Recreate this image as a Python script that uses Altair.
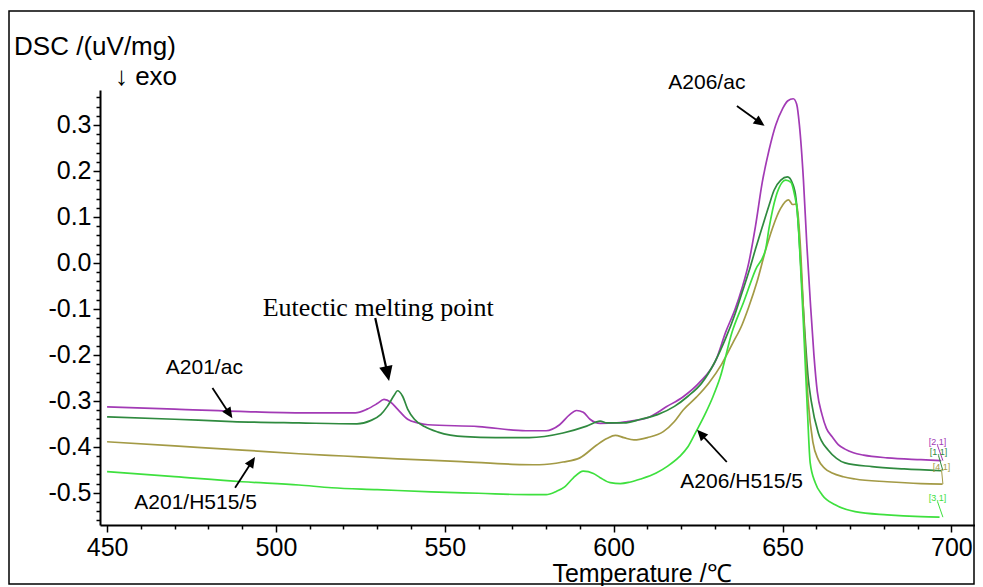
import math
import altair as alt
import pandas as pd

# ---------------- data ----------------
names = ["A206/ac", "A201/ac", "A201/H515/5", "A206/H515/5"]
colors = ["#a23ab5", "#2f8a3f", "#a39a45", "#3ee03e"]

purple_T = [450, 470, 494, 510, 523.5, 527, 530, 532, 534, 536, 539, 542, 545, 560, 574, 580,
            584, 587, 589, 591, 593, 596, 600.9, 604, 610.6, 615.6, 620.6, 625.3, 630.3, 633.2,
            636, 638, 640, 642, 644, 646, 648, 650, 651.5, 653.2, 654.2, 655, 656.2, 657.2,
            658.2, 659.3, 660.3, 661.7, 663, 664.7, 666.5, 668.5, 671, 674, 681, 691, 697]
purple_V = [-0.313, -0.318, -0.324, -0.326, -0.326, -0.318, -0.306, -0.297, -0.303, -0.318,
            -0.340, -0.348, -0.352, -0.356, -0.365, -0.365, -0.352, -0.330, -0.321, -0.325,
            -0.340, -0.349, -0.348, -0.345, -0.335, -0.313, -0.291, -0.261, -0.211, -0.150,
            -0.100, -0.055, 0.000, 0.080, 0.175, 0.245, 0.300, 0.335, 0.352, 0.357, 0.345,
            0.300, 0.180, 0.040, -0.080, -0.200, -0.280, -0.330, -0.360, -0.378, -0.395,
            -0.405, -0.413, -0.418, -0.424, -0.428, -0.430]

dgreen_T = [450, 470, 487, 506.8, 524, 528, 531, 533, 535, 536, 537.5, 539, 541, 544, 548, 556,
            565, 575, 585, 592, 596, 598, 603, 608, 613, 618, 622, 626, 630, 633, 636, 638, 640,
            642, 644, 646, 647.5, 649.5, 651.5, 653, 654, 654.8, 655.6, 656.6, 657.6, 658.5,
            660.6, 663.5, 666, 668.5, 676.5, 686, 697]
dgreen_V = [-0.335, -0.340, -0.345, -0.348, -0.350, -0.343, -0.330, -0.312, -0.288, -0.278,
            -0.290, -0.318, -0.340, -0.356, -0.368, -0.378, -0.380, -0.380, -0.370, -0.355,
            -0.344, -0.348, -0.348, -0.340, -0.330, -0.312, -0.290, -0.262, -0.215, -0.167,
            -0.110, -0.065, -0.020, 0.030, 0.078, 0.125, 0.158, 0.180, 0.187, 0.172, 0.140,
            0.070, -0.030, -0.150, -0.250, -0.300, -0.370, -0.407, -0.425, -0.435, -0.443,
            -0.448, -0.452]

olive_T = [450, 470, 490, 506.8, 520, 536, 555, 570, 578, 585, 590, 595, 598, 600.5, 603, 606,
           610, 614.7, 618, 620.6, 624.5, 628.2, 632, 635.3, 638, 640, 642.5, 645, 647, 649.4,
           651.8, 653, 654.2, 655.3, 656.3, 657.6, 659, 660.6, 662.5, 664.7, 668, 671.5, 681,
           691, 697.4]
olive_V = [-0.389, -0.398, -0.407, -0.415, -0.420, -0.426, -0.432, -0.438, -0.439, -0.433,
           -0.424, -0.396, -0.382, -0.375, -0.380, -0.385, -0.380, -0.367, -0.345, -0.320,
           -0.292, -0.261, -0.220, -0.174, -0.135, -0.096, -0.040, 0.028, 0.075, 0.118, 0.137,
           0.127, 0.128, 0.035, -0.120, -0.300, -0.390, -0.428, -0.447, -0.457, -0.465, -0.470,
           -0.476, -0.480, -0.481]

bgreen_T = [450, 470, 490, 506.8, 516.5, 530, 546, 560, 575, 580, 583, 585.5, 588, 591, 594,
            596, 599, 602, 604.7, 608, 612.6, 616, 619.4, 622, 624.4, 627, 629.4, 631.5, 635,
            638.5, 642, 645, 646, 648, 651, 652.5, 653.5, 654.4, 655.3, 656.3, 657.4, 658.2,
            659.7, 661.7, 665.6, 671.5, 681, 691, 696.5]
bgreen_V = [-0.454, -0.465, -0.476, -0.483, -0.489, -0.493, -0.498, -0.501, -0.504, -0.504,
            -0.497, -0.487, -0.468, -0.453, -0.458, -0.467, -0.478, -0.480, -0.477, -0.470,
            -0.457, -0.442, -0.422, -0.400, -0.367, -0.330, -0.291, -0.250, -0.152, -0.085,
            -0.015, 0.030, 0.075, 0.143, 0.180, 0.175, 0.150, 0.110, 0.000, -0.150, -0.326,
            -0.435, -0.478, -0.504, -0.526, -0.541, -0.548, -0.552, -0.553]

# annotation texts: (text, T, V)
sans_notes = [("A206/ac", 627.6, 0.391), ("A201/ac", 478.8, -0.228),
              ("A201/H515/5", 476.2, -0.522), ("A206/H515/5", 637.9, -0.476)]
serif_notes = [("Eutectic melting point", 530.3, -0.098)]

# arrows: (tail T, tail V, tip T, tip V, head length px, line width)
arrows = [(636.5, 0.341, 644.7, 0.298, 11, 1.8),
          (529.4, -0.120, 533.5, -0.257, 15, 2.2),
          (481.2, -0.272, 487.1, -0.338, 11, 1.8),
          (487.9, -0.489, 493.8, -0.422, 11, 1.8),
          (633.5, -0.433, 624.7, -0.363, 11, 1.8)]

# curve tags at the right end: (text, T, V, end V of curve)
tags = [("[2,1]", 695.9, -0.389, -0.430), ("[1,1]", 696.2, -0.411, -0.452),
        ("[4,1]", 697.1, -0.443, -0.481), ("[3,1]", 695.9, -0.511, -0.553)]

x_ticks = list(range(450, 701, 10))
y_ticks = [round(-0.56 + 0.02 * i, 2) for i in range(47)]

# ---------------- layout ----------------
X_DOMAIN = [447.9, 707.0]
Y_DOMAIN = [-0.570, 0.376]
W, H = 875, 435
pxT = W / (X_DOMAIN[1] - X_DOMAIN[0])
pxV = H / (Y_DOMAIN[1] - Y_DOMAIN[0])
SANS = "Liberation Sans"
SERIF = "Liberation Serif"

rows = []
for name, T, V in zip(names, [purple_T, dgreen_T, olive_T, bgreen_T],
                      [purple_V, dgreen_V, olive_V, bgreen_V]):
    for t, v in zip(T, V):
        rows.append({"series": name, "T": t, "V": v})
df = pd.DataFrame(rows)

xs = alt.Scale(domain=X_DOMAIN, nice=False, zero=False)
ys = alt.Scale(domain=Y_DOMAIN, nice=False, zero=False)
cs = alt.Scale(domain=names, range=colors)

YMAJ = "abs(datum.value*10 - round(datum.value*10)) < 0.001"
x_axis = alt.Axis(values=x_ticks, tickCount=200, title=None, grid=False,
                  labelOverlap=False, labelFlush=False,
                  labelExpr="datum.value % 50 === 0 ? datum.value : ''",
                  tickSize={"condition": {"test": "datum.value % 50 === 0", "value": 7}, "value": 4},
                  labelPadding=3, labelFontSize=25, labelFont=SANS, labelColor="black",
                  domainColor="black", domainWidth=2, tickColor="black", tickWidth=1.5)
y_axis = alt.Axis(values=y_ticks, tickCount=200, title=None, grid=False,
                  labelOverlap=False, labelFlush=False,
                  labelExpr=YMAJ + " ? replace(format(datum.value, '.1f'), '\u2212', '-') : ''",
                  tickSize={"condition": {"test": YMAJ, "value": 7}, "value": 4},
                  labelPadding=2, labelFontSize=25, labelFont=SANS, labelColor="black",
                  domainColor="black", domainWidth=2, tickColor="black", tickWidth=1.5)

lines = alt.Chart(df).mark_line(strokeWidth=1.7, interpolate="monotone").encode(
    x=alt.X("T:Q", scale=xs, axis=x_axis),
    y=alt.Y("V:Q", scale=ys, axis=y_axis),
    color=alt.Color("series:N", scale=cs, legend=None),
)

# arrows
shaft_rows, head_rows = [], []
for tT, tV, hT, hV, L, lw in arrows:
    dx = (hT - tT) * pxT
    dy = -(hV - tV) * pxV
    d = math.hypot(dx, dy)
    ux, uy = dx / d, dy / d
    baseT = hT - (L * 0.8) * ux / pxT
    baseV = hV + (L * 0.8) * uy / pxV
    cT = hT - (L / 2) * ux / pxT
    cV = hV + (L / 2) * uy / pxV
    ang = math.degrees(math.atan2(ux, -uy)) % 360
    shaft_rows.append({"T": tT, "V": tV, "T2": baseT, "V2": baseV, "w": lw})
    head_rows.append({"T": cT, "V": cV, "angle": ang, "size": L * L})

shafts = alt.Chart(pd.DataFrame(shaft_rows)).mark_rule(color="black").encode(
    x=alt.X("T:Q", scale=xs), y=alt.Y("V:Q", scale=ys),
    x2="T2:Q", y2="V2:Q",
    strokeWidth=alt.StrokeWidth("w:Q", scale=None),
)
heads = alt.Chart(pd.DataFrame(head_rows)).mark_point(
    shape="M0,-1L0.9,1L-0.9,1Z", filled=True, color="black", opacity=1, strokeWidth=0
).encode(
    x=alt.X("T:Q", scale=xs), y=alt.Y("V:Q", scale=ys),
    angle=alt.Angle("angle:Q", scale=None),
    size=alt.Size("size:Q", scale=None),
)

sans_df = pd.DataFrame(sans_notes, columns=["text", "T", "V"])
serif_df = pd.DataFrame(serif_notes, columns=["text", "T", "V"])
sans_txt = alt.Chart(sans_df).mark_text(font=SANS, fontSize=21, color="black").encode(
    x=alt.X("T:Q", scale=xs), y=alt.Y("V:Q", scale=ys), text="text:N")
serif_txt = alt.Chart(serif_df).mark_text(font=SERIF, fontSize=26, color="black").encode(
    x=alt.X("T:Q", scale=xs), y=alt.Y("V:Q", scale=ys), text="text:N")

tag_df = pd.DataFrame(tags, columns=["text", "T", "V", "endV"])
tag_df["series"] = names
tag_df["V0"] = tag_df["V"] - 0.008
tag_df["T1"] = 697.5
tag_txt = alt.Chart(tag_df).mark_text(font=SANS, fontSize=9).encode(
    x=alt.X("T:Q", scale=xs), y=alt.Y("V:Q", scale=ys), text="text:N",
    color=alt.Color("series:N", scale=cs, legend=None))
tag_lead = alt.Chart(tag_df).mark_rule(strokeWidth=1).encode(
    x=alt.X("T:Q", scale=xs), y=alt.Y("V0:Q", scale=ys), x2="T1:Q", y2="endV:Q",
    color=alt.Color("series:N", scale=cs, legend=None))

one = pd.DataFrame({"k": [0]})
ytitle = alt.Chart(one).mark_text(font=SANS, fontSize=26, color="black").encode(
    x=alt.value(-5), y=alt.value(-43), text=alt.value("DSC /(uV/mg)"))
exo = alt.Chart(one).mark_text(font=SANS, fontSize=26, color="black").encode(
    x=alt.value(46), y=alt.value(-13), text=alt.value("\u2193 exo"))
xtitle = alt.Chart(one).mark_text(font=SANS, fontSize=25, color="black").encode(
    x=alt.value(542), y=alt.value(484), text=alt.value("Temperature /\u2103"))
frame = alt.Chart(one).mark_rect(fill="transparent", stroke="black", strokeWidth=1.5).encode(
    x=alt.value(-91), x2=alt.value(874), y=alt.value(-79), y2=alt.value(494))

chart = alt.layer(lines, shafts, heads, sans_txt, serif_txt, tag_lead, tag_txt,
                  ytitle, exo, xtitle, frame).properties(
    width=W, height=H, autosize="none",
    padding={"left": 92, "top": 82, "right": 0, "bottom": 61},
    background="white",
).configure_view(stroke=None)

chart.save("out.html", embed_options={"renderer": "svg", "actions": False})
